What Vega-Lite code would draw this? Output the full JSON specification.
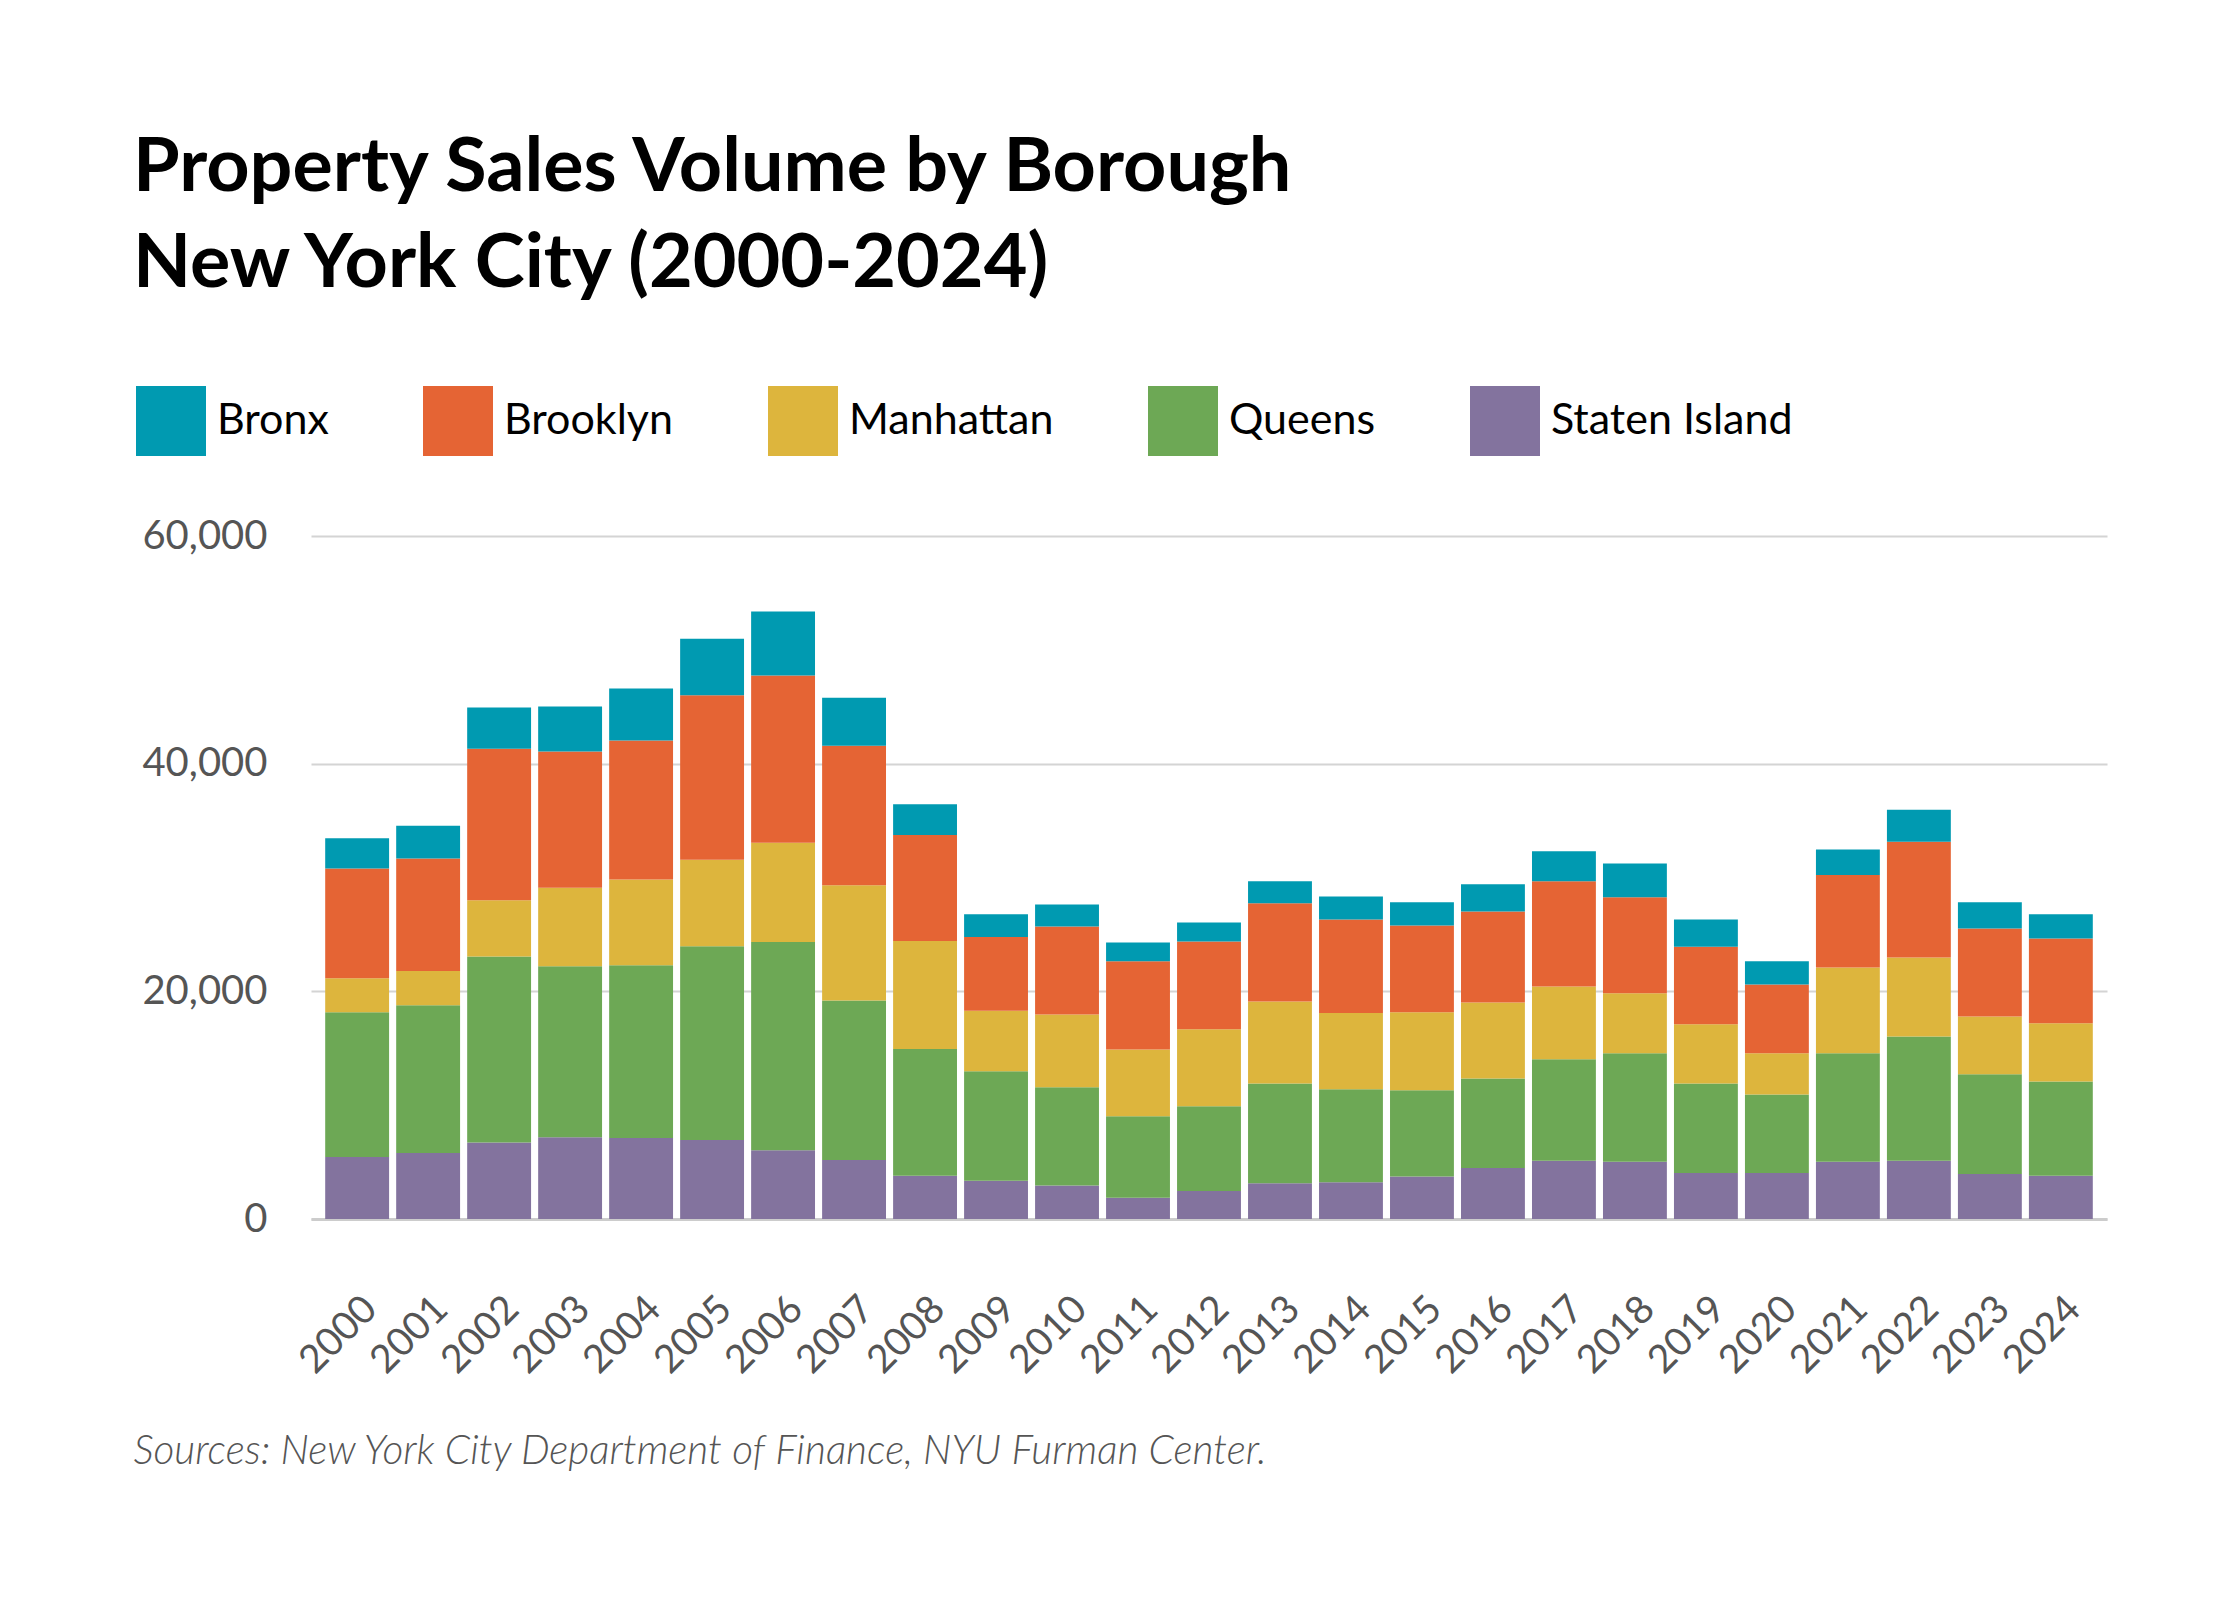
{
  "$schema": "https://vega.github.io/schema/vega-lite/v6.json",
  "description": "Property sales volume by borough, stacked bars",
  "autosize": {"type": "none"},
  "width": 1796,
  "height": 683,
  "padding": {"left": 311, "top": 536, "right": 133, "bottom": 381},
  "background": "white",
  "title": {
    "text": ["Property Sales Volume by Borough", "New York City (2000-2024)"],
    "anchor": "start",
    "frame": "bounds",
    "font": "Lato",
    "fontSize": 75.5,
    "fontWeight": "bold",
    "color": "#000000",
    "lineHeight": 96,
    "offset": 84
  },
  "config": {
    "view": {"stroke": null},
    "font": "Lato"
  },
  "data": {
    "values": [
      {"Year": "2000", "Borough": "Staten Island", "Sales": 5450},
      {"Year": "2000", "Borough": "Queens", "Sales": 12720},
      {"Year": "2000", "Borough": "Manhattan", "Sales": 2980},
      {"Year": "2000", "Borough": "Brooklyn", "Sales": 9650},
      {"Year": "2000", "Borough": "Bronx", "Sales": 2640},
      {"Year": "2001", "Borough": "Staten Island", "Sales": 5790},
      {"Year": "2001", "Borough": "Queens", "Sales": 12980},
      {"Year": "2001", "Borough": "Manhattan", "Sales": 3020},
      {"Year": "2001", "Borough": "Brooklyn", "Sales": 9870},
      {"Year": "2001", "Borough": "Bronx", "Sales": 2890},
      {"Year": "2002", "Borough": "Staten Island", "Sales": 6720},
      {"Year": "2002", "Borough": "Queens", "Sales": 16340},
      {"Year": "2002", "Borough": "Manhattan", "Sales": 4940},
      {"Year": "2002", "Borough": "Brooklyn", "Sales": 13320},
      {"Year": "2002", "Borough": "Bronx", "Sales": 3620},
      {"Year": "2003", "Borough": "Staten Island", "Sales": 7190},
      {"Year": "2003", "Borough": "Queens", "Sales": 15020},
      {"Year": "2003", "Borough": "Manhattan", "Sales": 6900},
      {"Year": "2003", "Borough": "Brooklyn", "Sales": 11950},
      {"Year": "2003", "Borough": "Bronx", "Sales": 3960},
      {"Year": "2004", "Borough": "Staten Island", "Sales": 7110},
      {"Year": "2004", "Borough": "Queens", "Sales": 15190},
      {"Year": "2004", "Borough": "Manhattan", "Sales": 7530},
      {"Year": "2004", "Borough": "Brooklyn", "Sales": 12210},
      {"Year": "2004", "Borough": "Bronx", "Sales": 4560},
      {"Year": "2005", "Borough": "Staten Island", "Sales": 6940},
      {"Year": "2005", "Borough": "Queens", "Sales": 17020},
      {"Year": "2005", "Borough": "Manhattan", "Sales": 7610},
      {"Year": "2005", "Borough": "Brooklyn", "Sales": 14430},
      {"Year": "2005", "Borough": "Bronx", "Sales": 4980},
      {"Year": "2006", "Borough": "Staten Island", "Sales": 6040},
      {"Year": "2006", "Borough": "Queens", "Sales": 18300},
      {"Year": "2006", "Borough": "Manhattan", "Sales": 8720},
      {"Year": "2006", "Borough": "Brooklyn", "Sales": 14680},
      {"Year": "2006", "Borough": "Bronx", "Sales": 5620},
      {"Year": "2007", "Borough": "Staten Island", "Sales": 5190},
      {"Year": "2007", "Borough": "Queens", "Sales": 14000},
      {"Year": "2007", "Borough": "Manhattan", "Sales": 10130},
      {"Year": "2007", "Borough": "Brooklyn", "Sales": 12250},
      {"Year": "2007", "Borough": "Bronx", "Sales": 4220},
      {"Year": "2008", "Borough": "Staten Island", "Sales": 3790},
      {"Year": "2008", "Borough": "Queens", "Sales": 11150},
      {"Year": "2008", "Borough": "Manhattan", "Sales": 9490},
      {"Year": "2008", "Borough": "Brooklyn", "Sales": 9310},
      {"Year": "2008", "Borough": "Bronx", "Sales": 2690},
      {"Year": "2009", "Borough": "Staten Island", "Sales": 3360},
      {"Year": "2009", "Borough": "Queens", "Sales": 9620},
      {"Year": "2009", "Borough": "Manhattan", "Sales": 5320},
      {"Year": "2009", "Borough": "Brooklyn", "Sales": 6470},
      {"Year": "2009", "Borough": "Bronx", "Sales": 2000},
      {"Year": "2010", "Borough": "Staten Island", "Sales": 2940},
      {"Year": "2010", "Borough": "Queens", "Sales": 8630},
      {"Year": "2010", "Borough": "Manhattan", "Sales": 6390},
      {"Year": "2010", "Borough": "Brooklyn", "Sales": 7740},
      {"Year": "2010", "Borough": "Bronx", "Sales": 1920},
      {"Year": "2011", "Borough": "Staten Island", "Sales": 1870},
      {"Year": "2011", "Borough": "Queens", "Sales": 7150},
      {"Year": "2011", "Borough": "Manhattan", "Sales": 5870},
      {"Year": "2011", "Borough": "Brooklyn", "Sales": 7750},
      {"Year": "2011", "Borough": "Bronx", "Sales": 1660},
      {"Year": "2012", "Borough": "Staten Island", "Sales": 2470},
      {"Year": "2012", "Borough": "Queens", "Sales": 7440},
      {"Year": "2012", "Borough": "Manhattan", "Sales": 6770},
      {"Year": "2012", "Borough": "Brooklyn", "Sales": 7700},
      {"Year": "2012", "Borough": "Bronx", "Sales": 1660},
      {"Year": "2013", "Borough": "Staten Island", "Sales": 3150},
      {"Year": "2013", "Borough": "Queens", "Sales": 8760},
      {"Year": "2013", "Borough": "Manhattan", "Sales": 7200},
      {"Year": "2013", "Borough": "Brooklyn", "Sales": 8630},
      {"Year": "2013", "Borough": "Bronx", "Sales": 1920},
      {"Year": "2014", "Borough": "Staten Island", "Sales": 3230},
      {"Year": "2014", "Borough": "Queens", "Sales": 8170},
      {"Year": "2014", "Borough": "Manhattan", "Sales": 6690},
      {"Year": "2014", "Borough": "Brooklyn", "Sales": 8210},
      {"Year": "2014", "Borough": "Bronx", "Sales": 2040},
      {"Year": "2015", "Borough": "Staten Island", "Sales": 3740},
      {"Year": "2015", "Borough": "Queens", "Sales": 7580},
      {"Year": "2015", "Borough": "Manhattan", "Sales": 6850},
      {"Year": "2015", "Borough": "Brooklyn", "Sales": 7620},
      {"Year": "2015", "Borough": "Bronx", "Sales": 2040},
      {"Year": "2016", "Borough": "Staten Island", "Sales": 4470},
      {"Year": "2016", "Borough": "Queens", "Sales": 7870},
      {"Year": "2016", "Borough": "Manhattan", "Sales": 6680},
      {"Year": "2016", "Borough": "Brooklyn", "Sales": 8000},
      {"Year": "2016", "Borough": "Bronx", "Sales": 2380},
      {"Year": "2017", "Borough": "Staten Island", "Sales": 5110},
      {"Year": "2017", "Borough": "Queens", "Sales": 8930},
      {"Year": "2017", "Borough": "Manhattan", "Sales": 6390},
      {"Year": "2017", "Borough": "Brooklyn", "Sales": 9230},
      {"Year": "2017", "Borough": "Bronx", "Sales": 2640},
      {"Year": "2018", "Borough": "Staten Island", "Sales": 5020},
      {"Year": "2018", "Borough": "Queens", "Sales": 9530},
      {"Year": "2018", "Borough": "Manhattan", "Sales": 5280},
      {"Year": "2018", "Borough": "Brooklyn", "Sales": 8430},
      {"Year": "2018", "Borough": "Bronx", "Sales": 2970},
      {"Year": "2019", "Borough": "Staten Island", "Sales": 4040},
      {"Year": "2019", "Borough": "Queens", "Sales": 7870},
      {"Year": "2019", "Borough": "Manhattan", "Sales": 5200},
      {"Year": "2019", "Borough": "Brooklyn", "Sales": 6800},
      {"Year": "2019", "Borough": "Bronx", "Sales": 2390},
      {"Year": "2020", "Borough": "Staten Island", "Sales": 4040},
      {"Year": "2020", "Borough": "Queens", "Sales": 6900},
      {"Year": "2020", "Borough": "Manhattan", "Sales": 3610},
      {"Year": "2020", "Borough": "Brooklyn", "Sales": 6050},
      {"Year": "2020", "Borough": "Bronx", "Sales": 2040},
      {"Year": "2021", "Borough": "Staten Island", "Sales": 5020},
      {"Year": "2021", "Borough": "Queens", "Sales": 9530},
      {"Year": "2021", "Borough": "Manhattan", "Sales": 7540},
      {"Year": "2021", "Borough": "Brooklyn", "Sales": 8120},
      {"Year": "2021", "Borough": "Bronx", "Sales": 2260},
      {"Year": "2022", "Borough": "Staten Island", "Sales": 5110},
      {"Year": "2022", "Borough": "Queens", "Sales": 10930},
      {"Year": "2022", "Borough": "Manhattan", "Sales": 6940},
      {"Year": "2022", "Borough": "Brooklyn", "Sales": 10170},
      {"Year": "2022", "Borough": "Bronx", "Sales": 2810},
      {"Year": "2023", "Borough": "Staten Island", "Sales": 3960},
      {"Year": "2023", "Borough": "Queens", "Sales": 8760},
      {"Year": "2023", "Borough": "Manhattan", "Sales": 5070},
      {"Year": "2023", "Borough": "Brooklyn", "Sales": 7740},
      {"Year": "2023", "Borough": "Bronx", "Sales": 2300},
      {"Year": "2024", "Borough": "Staten Island", "Sales": 3790},
      {"Year": "2024", "Borough": "Queens", "Sales": 8300},
      {"Year": "2024", "Borough": "Manhattan", "Sales": 5100},
      {"Year": "2024", "Borough": "Brooklyn", "Sales": 7450},
      {"Year": "2024", "Borough": "Bronx", "Sales": 2130}
    ]
  },
  "mark": {"type": "bar"},
  "encoding": {
    "x": {
      "field": "Year",
      "type": "ordinal",
      "scale": {"paddingInner": 0.1, "paddingOuter": 0.2},
      "axis": {
        "title": "Sources: New York City Department of Finance, NYU Furman Center.",
        "titleFont": "Lato",
        "titleFontSize": 40.6,
        "titleFontWeight": 300,
        "titleFontStyle": "italic",
        "titleColor": "#555555",
        "titleAnchor": "start",
        "titleAlign": "left",
        "titleBaseline": "alphabetic",
        "titleX": -178,
        "titleY": 244,
        "labelAngle": -45,
        "labelFont": "Lato",
        "labelFontSize": 39,
        "labelColor": "#555555",
        "labelPadding": 70,
        "ticks": false,
        "domain": true,
        "domainColor": "#cccccc",
        "domainWidth": 3,
        "grid": false
      }
    },
    "y": {
      "field": "Sales",
      "type": "quantitative",
      "aggregate": "sum",
      "stack": "zero",
      "scale": {"domain": [0, 60000]},
      "axis": {
        "title": null,
        "values": [0, 20000, 40000, 60000],
        "format": ",d",
        "labelFont": "Lato",
        "labelFontSize": 40,
        "labelColor": "#555555",
        "labelPadding": 44,
        "ticks": false,
        "domain": false,
        "grid": true,
        "gridColor": "#d4d4d4",
        "gridWidth": 2
      }
    },
    "color": {
      "field": "Borough",
      "type": "nominal",
      "scale": {
        "domain": ["Bronx", "Brooklyn", "Manhattan", "Queens", "Staten Island"],
        "range": ["#009AB1", "#E56434", "#DDB53D", "#6DA855", "#83739E"]
      },
      "legend": {
        "title": null,
        "orient": "none",
        "direction": "horizontal",
        "legendX": -175,
        "legendY": -150,
        "symbolType": "square",
        "symbolSize": 4900,
        "symbolStrokeWidth": 0,
        "symbolOpacity": 1,
        "labelFont": "Lato",
        "labelFontSize": 43,
        "labelColor": "#000000",
        "labelOffset": 11,
        "columnPadding": 94,
        "labelLimit": 400
      }
    },
    "order": {"field": "Borough", "type": "nominal", "sort": "descending"}
  }
}
